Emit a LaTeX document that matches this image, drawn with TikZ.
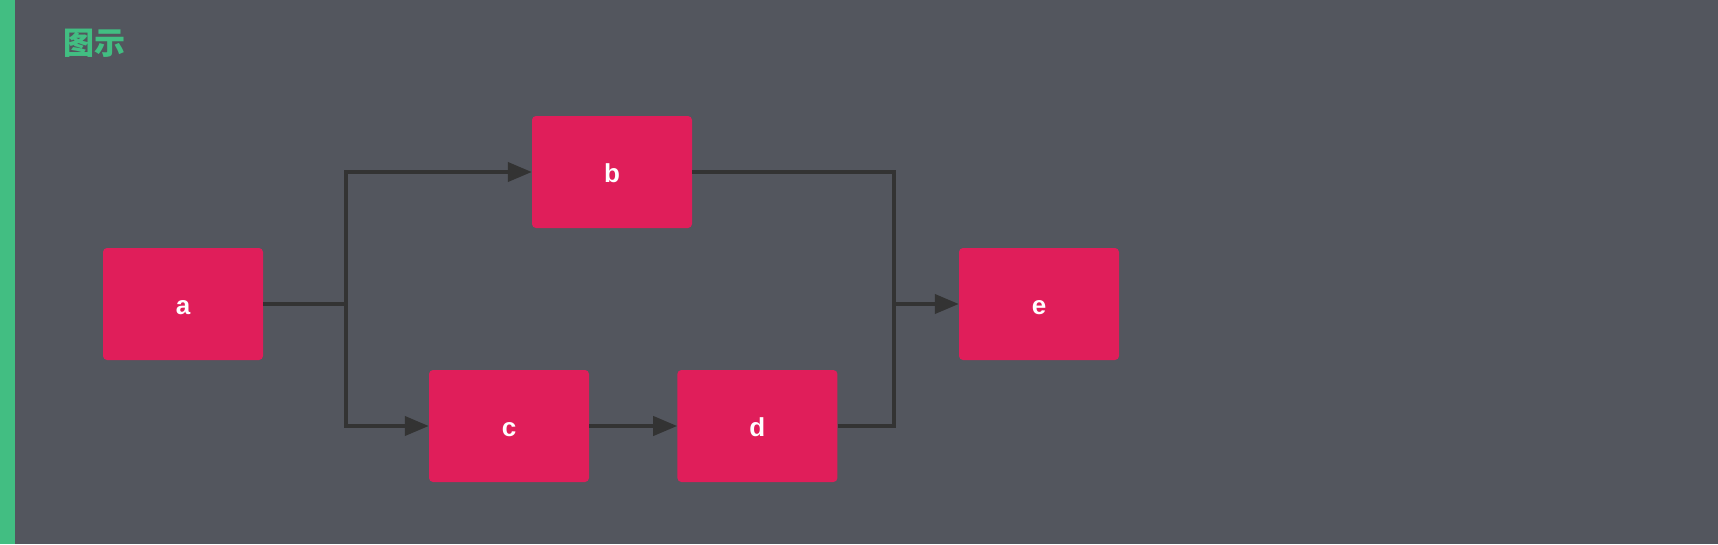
\documentclass[tikz,border=0pt]{standalone}
\usepackage{fontspec}
\setmainfont{Liberation Sans}
\newfontfamily\cjkfont{Noto Sans CJK SC}
\usetikzlibrary{positioning}
\usetikzlibrary{arrows.meta}
\definecolor{bggrey}{HTML}{53565E}
\definecolor{bargreen}{HTML}{42BE82}
\definecolor{boxred}{HTML}{E01E5A}
\definecolor{linegrey}{HTML}{333333}

\begin{document}
\begin{tikzpicture}
        [
            x=1pt, y=-1pt,
            task/.style={rectangle, fill=boxred, rounded corners=4pt, minimum width=160pt, minimum height=112pt, inner sep=0pt, text height=20pt, text depth=0pt, text=white, font=\bfseries\fontsize{26}{26}\selectfont},
            link/.style={draw=linegrey, line width=4pt},
            flow/.style={link, -{Triangle[length=24pt, width=19pt]}}
        ]
        %background
        \fill[bggrey] (0,0) rectangle (1718,544);
        \fill[bargreen] (0,0) rectangle (15,544);
        \node[anchor=west, inner sep=0pt, text=bargreen, font=\cjkfont\bfseries\fontsize{31}{31}\selectfont] at (63,43) (title) {图示};
        %nodes
        \node[task] at (183,304)            (a)     {a};
        \node[task] at (612,172)            (b)     {b};
        \node[task] at (509,426)            (c)     {c};
        \node[task, right=88pt of c]        (d)     {d};
        \node[task] at (1039,304)           (e)     {e};
        \coordinate (split) at (346,304);
        \coordinate (join)  at (894,304);
        %arrows
        \draw[link] (a.east) -- (split);
        \draw[flow] (split) |- (b.west);
        \draw[flow] (split) |- (c.west);
        \draw[flow] (c.east) -- (d.west);
        \draw[link] (b.east) -| (join);
        \draw[link] (d.east) -| (join);
        \draw[flow] (join) -- (e.west);
    \end{tikzpicture}
\end{document}
